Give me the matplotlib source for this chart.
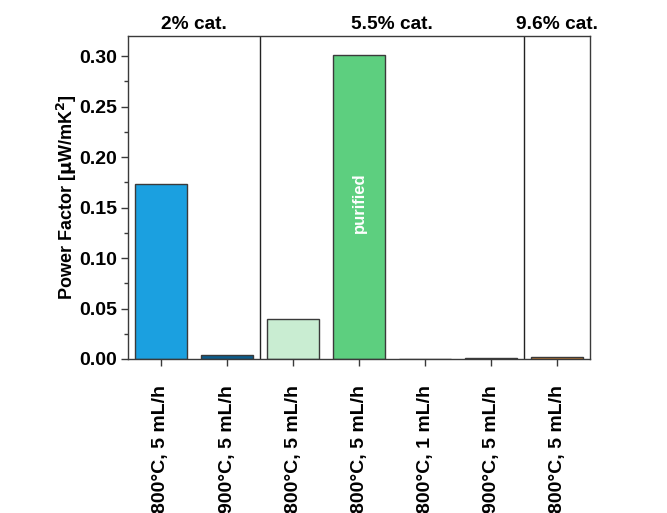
import matplotlib

matplotlib.use("Agg")
import matplotlib.pyplot as plt
import matplotlib.ticker as ticker

plt.rcParams["font.family"] = ["Liberation Sans", "DejaVu Sans"]
plt.rcParams["font.weight"] = "bold"

# power factor per synthesis condition, grouped by catalyst loading
conditions = [
    "800°C, 5 mL/h",
    "900°C, 5 mL/h",
    "800°C, 5 mL/h",
    "800°C, 5 mL/h",
    "800°C, 1 mL/h",
    "900°C, 5 mL/h",
    "800°C, 5 mL/h",
]
power_factor = [0.173, 0.0037, 0.040, 0.301, 0.0, 0.0012, 0.0022]
bar_colors = ["#1ba0e0", "#0b5c8c", "#c9edd2", "#5dcf7f", "#5dcf7f", "#2a2a2a", "#e0882e"]
groups = ["2% cat.", "5.5% cat.", "9.6% cat."]
group_edges = [-0.5, 1.5, 5.5, 6.5]

EDGE = "#3a3a3a"

fig = plt.figure(figsize=(6.67, 5.13), dpi=100, facecolor="white")
ax = fig.add_axes([0.1919, 0.3002, 0.6927, 0.6296])

x = list(range(len(conditions)))
ax.bar(x, power_factor, width=0.8, color=bar_colors, edgecolor=EDGE, linewidth=1.0)

ax.set_xlim(group_edges[0], group_edges[-1])
ax.set_ylim(0, 0.32)

# group separators and their headings
for edge in group_edges[1:-1]:
    ax.axvline(edge, color="#222222", linewidth=1.0)
for label, lo, hi in zip(groups, group_edges[:-1], group_edges[1:]):
    ax.text((lo + hi) / 2, 1.008, label, transform=ax.get_xaxis_transform(),
            ha="center", va="bottom", fontsize=13.8, fontweight="bold")

ax.text(3, 0.155, "purified", rotation=90, color="white", ha="center", va="center",
        fontsize=12, fontweight="bold")

ax.set_xticks(x)
ax.set_xticklabels(conditions, rotation=90, fontsize=14, fontweight="bold")
ax.yaxis.set_major_locator(ticker.MultipleLocator(0.05))
ax.yaxis.set_minor_locator(ticker.MultipleLocator(0.025))
ax.yaxis.set_major_formatter(ticker.FormatStrFormatter("%.2f"))
for lab in ax.get_yticklabels():
    lab.set_fontsize(14)
    lab.set_fontweight("bold")

ax.tick_params(axis="both", which="major", direction="out", length=5, width=1, color=EDGE, pad=3)
ax.tick_params(axis="x", which="major", pad=14)
ax.tick_params(axis="y", which="minor", direction="out", length=3, width=1, color=EDGE)
ax.tick_params(axis="x", which="minor", bottom=False)

for spine in ax.spines.values():
    spine.set_color(EDGE)
    spine.set_linewidth(1.0)

ax.set_ylabel(r"Power Factor [$\mathbf{\mu}$W/mK$^\mathbf{2}$]", fontsize=13, fontweight="bold", labelpad=0)

fig.savefig("out.png", dpi=100, facecolor="white")
